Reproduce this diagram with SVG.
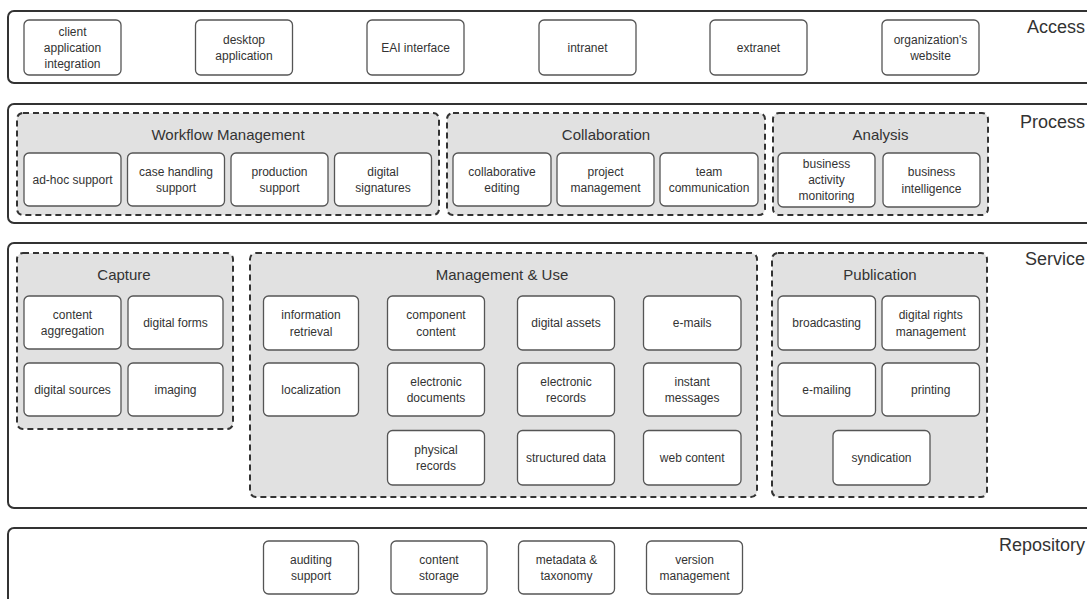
<svg xmlns="http://www.w3.org/2000/svg" width="1087" height="599" viewBox="0 0 1087 599">
<style>
  .layer { fill: #ffffff; stroke: #333333; stroke-width: 2; }
  .grp { fill: #e1e1e1; stroke: #333333; stroke-width: 2; stroke-dasharray: 6 4; }
  .node { fill: #ffffff; stroke: #555555; stroke-width: 1.3; }
  text { font-family: "Liberation Sans", Arial, sans-serif; fill: #333333; }
  .t { font-size: 12px; text-anchor: middle; }
  .gt { font-size: 15px; text-anchor: middle; }
  .lt { font-size: 18px; text-anchor: end; }
</style>
<rect width="1087" height="599" fill="#ffffff"/>

<!-- Layers -->
<g id="layer-access">
  <rect class="layer" x="8" y="11" width="1100" height="72" rx="6"/>
  <text class="lt" x="1085" y="33">Access</text>
</g>
<g id="layer-process">
  <rect class="layer" x="8" y="104" width="1100" height="119" rx="6"/>
  <text class="lt" x="1085" y="128">Process</text>
</g>
<g id="layer-service">
  <rect class="layer" x="8" y="243" width="1100" height="265" rx="6"/>
  <text class="lt" x="1085" y="265">Service</text>
</g>
<g id="layer-repository">
  <rect class="layer" x="8" y="528" width="1100" height="85" rx="6"/>
  <text class="lt" x="1085" y="551">Repository</text>
</g>

<!-- Access nodes -->
<g id="n-client-app-integration"><rect class="node" x="24" y="20" width="97" height="55" rx="5"/>
  <text class="t" x="72.5" y="35.7">client</text><text class="t" x="72.5" y="51.7">application</text><text class="t" x="72.5" y="67.7">integration</text></g>
<g id="n-desktop-app"><rect class="node" x="195.5" y="20" width="97" height="55" rx="5"/>
  <text class="t" x="244" y="43.7">desktop</text><text class="t" x="244" y="59.7">application</text></g>
<g id="n-eai"><rect class="node" x="367" y="20" width="97" height="55" rx="5"/>
  <text class="t" x="415.5" y="51.7">EAI interface</text></g>
<g id="n-intranet"><rect class="node" x="539" y="20" width="97" height="55" rx="5"/>
  <text class="t" x="587.5" y="51.7">intranet</text></g>
<g id="n-extranet"><rect class="node" x="710" y="20" width="97" height="55" rx="5"/>
  <text class="t" x="758.5" y="51.7">extranet</text></g>
<g id="n-org-website"><rect class="node" x="882" y="20" width="97" height="55" rx="5"/>
  <text class="t" x="930.5" y="43.7">organization's</text><text class="t" x="930.5" y="59.7">website</text></g>

<!-- Process groups -->
<g id="g-workflow">
  <rect class="grp" x="17" y="113" width="422" height="102" rx="6"/>
  <text class="gt" x="228" y="140">Workflow Management</text>
</g>
<g id="g-collaboration">
  <rect class="grp" x="447" y="113" width="318" height="102" rx="6"/>
  <text class="gt" x="606" y="140">Collaboration</text>
</g>
<g id="g-analysis">
  <rect class="grp" x="773" y="113" width="215" height="102" rx="6"/>
  <text class="gt" x="880.5" y="140">Analysis</text>
</g>

<g id="n-adhoc"><rect class="node" x="24" y="153" width="97" height="53" rx="5"/>
  <text class="t" x="72.5" y="183.7">ad-hoc support</text></g>
<g id="n-case-handling"><rect class="node" x="127.5" y="153" width="97" height="53" rx="5"/>
  <text class="t" x="176" y="175.5">case handling</text><text class="t" x="176" y="192">support</text></g>
<g id="n-production"><rect class="node" x="231" y="153" width="97" height="53" rx="5"/>
  <text class="t" x="279.5" y="175.5">production</text><text class="t" x="279.5" y="192">support</text></g>
<g id="n-digital-signatures"><rect class="node" x="334.5" y="153" width="97" height="53" rx="5"/>
  <text class="t" x="383" y="175.5">digital</text><text class="t" x="383" y="192">signatures</text></g>

<g id="n-collab-editing"><rect class="node" x="453" y="153" width="98" height="53" rx="5"/>
  <text class="t" x="502" y="175.5">collaborative</text><text class="t" x="502" y="192">editing</text></g>
<g id="n-project-mgmt"><rect class="node" x="557" y="153" width="97" height="53" rx="5"/>
  <text class="t" x="605.5" y="175.5">project</text><text class="t" x="605.5" y="192">management</text></g>
<g id="n-team-comm"><rect class="node" x="660" y="153" width="98" height="53" rx="5"/>
  <text class="t" x="709" y="175.5">team</text><text class="t" x="709" y="192">communication</text></g>

<g id="n-bam"><rect class="node" x="778" y="153" width="97" height="54" rx="5"/>
  <text class="t" x="826.5" y="168">business</text><text class="t" x="826.5" y="184.2">activity</text><text class="t" x="826.5" y="200.4">monitoring</text></g>
<g id="n-bi"><rect class="node" x="883" y="153" width="97" height="54" rx="5"/>
  <text class="t" x="931.5" y="176">business</text><text class="t" x="931.5" y="192.5">intelligence</text></g>

<!-- Service groups -->
<g id="g-capture">
  <rect class="grp" x="17" y="253" width="216" height="176" rx="6"/>
  <text class="gt" x="124" y="280">Capture</text>
</g>
<g id="g-management-use">
  <rect class="grp" x="250" y="253" width="507" height="244" rx="6"/>
  <text class="gt" x="502" y="280">Management &amp; Use</text>
</g>
<g id="g-publication">
  <rect class="grp" x="772" y="253" width="215" height="244" rx="6"/>
  <text class="gt" x="880" y="280">Publication</text>
</g>

<g id="n-content-aggregation"><rect class="node" x="24" y="296" width="97" height="53" rx="5"/>
  <text class="t" x="72.5" y="318.5">content</text><text class="t" x="72.5" y="335">aggregation</text></g>
<g id="n-digital-forms"><rect class="node" x="128" y="296" width="95" height="53" rx="5"/>
  <text class="t" x="175.5" y="326.7">digital forms</text></g>
<g id="n-digital-sources"><rect class="node" x="24" y="363" width="97" height="53" rx="5"/>
  <text class="t" x="72.5" y="393.7">digital sources</text></g>
<g id="n-imaging"><rect class="node" x="128" y="363" width="95" height="53" rx="5"/>
  <text class="t" x="175.5" y="393.7">imaging</text></g>

<g id="n-info-retrieval"><rect class="node" x="263.5" y="296" width="95" height="54" rx="5"/>
  <text class="t" x="311" y="319">information</text><text class="t" x="311" y="335.5">retrieval</text></g>
<g id="n-localization"><rect class="node" x="263.5" y="363" width="95" height="53" rx="5"/>
  <text class="t" x="311" y="393.7">localization</text></g>
<g id="n-component-content"><rect class="node" x="387.5" y="296" width="97" height="54" rx="5"/>
  <text class="t" x="436" y="319">component</text><text class="t" x="436" y="335.5">content</text></g>
<g id="n-electronic-documents"><rect class="node" x="387.5" y="363" width="97" height="53" rx="5"/>
  <text class="t" x="436" y="385.5">electronic</text><text class="t" x="436" y="402">documents</text></g>
<g id="n-physical-records"><rect class="node" x="387.5" y="430.5" width="97" height="54.5" rx="5"/>
  <text class="t" x="436" y="453.5">physical</text><text class="t" x="436" y="470">records</text></g>
<g id="n-digital-assets"><rect class="node" x="517.5" y="296" width="97" height="54" rx="5"/>
  <text class="t" x="566" y="327.2">digital assets</text></g>
<g id="n-electronic-records"><rect class="node" x="517.5" y="363" width="97" height="53" rx="5"/>
  <text class="t" x="566" y="385.5">electronic</text><text class="t" x="566" y="402">records</text></g>
<g id="n-structured-data"><rect class="node" x="517.5" y="430.5" width="97" height="54.5" rx="5"/>
  <text class="t" x="566" y="462">structured data</text></g>
<g id="n-emails"><rect class="node" x="643.5" y="296" width="97.5" height="54" rx="5"/>
  <text class="t" x="692.2" y="327.2">e-mails</text></g>
<g id="n-instant-messages"><rect class="node" x="643.5" y="363" width="97.5" height="53" rx="5"/>
  <text class="t" x="692.2" y="385.5">instant</text><text class="t" x="692.2" y="402">messages</text></g>
<g id="n-web-content"><rect class="node" x="643.5" y="430.5" width="97.5" height="54.5" rx="5"/>
  <text class="t" x="692.2" y="462">web content</text></g>

<g id="n-broadcasting"><rect class="node" x="778" y="296" width="97.5" height="54" rx="5"/>
  <text class="t" x="826.7" y="327.2">broadcasting</text></g>
<g id="n-drm"><rect class="node" x="882" y="296" width="97.5" height="54" rx="5"/>
  <text class="t" x="930.7" y="319">digital rights</text><text class="t" x="930.7" y="335.5">management</text></g>
<g id="n-emailing"><rect class="node" x="778" y="363" width="97.5" height="53" rx="5"/>
  <text class="t" x="826.7" y="393.7">e-mailing</text></g>
<g id="n-printing"><rect class="node" x="882" y="363" width="97.5" height="53" rx="5"/>
  <text class="t" x="930.7" y="393.7">printing</text></g>
<g id="n-syndication"><rect class="node" x="833" y="430.5" width="97" height="54.5" rx="5"/>
  <text class="t" x="881.5" y="462">syndication</text></g>

<!-- Repository nodes -->
<g id="n-auditing-support"><rect class="node" x="263.5" y="541" width="95" height="53" rx="5"/>
  <text class="t" x="311" y="563.5">auditing</text><text class="t" x="311" y="580">support</text></g>
<g id="n-content-storage"><rect class="node" x="391" y="541" width="96" height="53" rx="5"/>
  <text class="t" x="439" y="563.5">content</text><text class="t" x="439" y="580">storage</text></g>
<g id="n-metadata-taxonomy"><rect class="node" x="518.5" y="541" width="96" height="53" rx="5"/>
  <text class="t" x="566.5" y="563.5">metadata &amp;</text><text class="t" x="566.5" y="580">taxonomy</text></g>
<g id="n-version-management"><rect class="node" x="646.5" y="541" width="96" height="53" rx="5"/>
  <text class="t" x="694.5" y="563.5">version</text><text class="t" x="694.5" y="580">management</text></g>

<g id="connectors"></g>
</svg>
